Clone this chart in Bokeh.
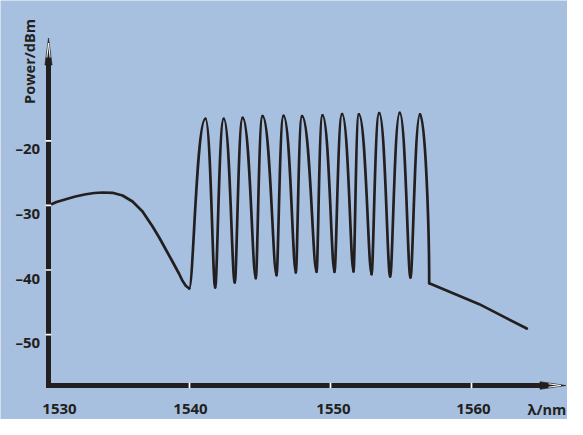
import numpy as np
from bokeh.plotting import figure
from bokeh.models import Range1d, Label
from bokeh.embed import file_html
from bokeh.resources import INLINE

# ---------------- data ----------------
# broad ASE hump before the comb (nm, dBm)
ase_nm = [1530.00, 1530.57, 1531.23, 1531.91, 1532.65, 1533.26, 1533.83, 1534.54,
          1535.25, 1535.96, 1536.67, 1537.38, 1537.85, 1538.32, 1538.79, 1539.27,
          1539.50, 1539.75, 1539.98]
ase_dbm = [-30.02, -29.47, -29.04, -28.62, -28.27, -28.08, -28.00, -28.05,
           -28.47, -29.40, -30.94, -33.27, -34.97, -36.83, -38.68, -40.62,
           -41.67, -42.48, -42.86]

# comb extrema: trough, peak, trough, peak ... ending at the cut-off corner
comb_nm = [1539.98, 1541.13, 1541.82, 1542.43, 1543.21, 1543.77, 1544.70, 1545.18,
           1546.17, 1546.67, 1547.54, 1547.98, 1549.01, 1549.43, 1550.28, 1550.82,
           1551.63, 1552.01, 1552.91, 1553.45, 1554.23, 1554.91, 1555.67, 1556.35,
           1557.00]
comb_dbm = [-42.86, -16.59, -42.71, -16.59, -41.93, -16.44, -41.27, -16.19,
            -40.80, -16.13, -40.39, -16.19, -40.28, -16.06, -40.28, -15.85,
            -40.23, -15.90, -40.65, -15.71, -41.01, -15.68, -41.16, -15.90,
            -42.04]

# decline after the comb
tail_nm = [1557.00, 1558.65, 1560.55, 1562.20, 1563.92]
tail_dbm = [-42.04, -43.56, -45.29, -47.14, -49.06]

x_ticks = [1530, 1540, 1550, 1560]
x_tick_labels = ["1530", "1540", "1550", "1560"]
y_ticks = [-20, -30, -40, -50]
y_tick_labels = ["\u201320", "\u201330", "\u201340", "\u201350"]
x_title = "\u03bb/nm"
y_title = "Power/dBm"

# ---------------- layout / style ----------------
W, H = 567, 419
BG = "#a7c0df"
INK = "#231f20"
FONT = "Open Sans"
PX_NM = 14.1          # pixels per nm
PX_DB = 6.46          # pixels per dB
X0_PX = 48.0          # figure pixel column of 1530 nm
Y0_PX = 140.3         # figure pixel row of -20 dBm


def dx(px):
    return px / PX_NM


def dy(px):
    return px / PX_DB


x_start = 1530 - dx(X0_PX)
x_end = 1530 + dx(W - X0_PX)
y_top = -20 + dy(Y0_PX)
y_bot = -20 - dy(H - Y0_PX)

AXIS_X = 1530
AXIS_Y = -20 - dy(385.0 - Y0_PX)
X_LINE_END = 1530 + dx(540.0 - X0_PX)
X_TIP = 1530 + dx(565.3 - X0_PX)
Y_LINE_END = -20 + dy(Y0_PX - 64.0)
Y_TIP = -20 + dy(Y0_PX - 37.5)
LABEL_DROP = 23.5     # px from x-axis line down to label baseline

p = figure(width=W, height=H, x_range=Range1d(x_start, x_end),
           y_range=Range1d(y_bot, y_top), output_backend="svg",
           toolbar_location=None, x_axis_location=None, y_axis_location=None,
           min_border=0, title=None, background_fill_color=BG,
           border_fill_color=BG, outline_line_color=None)
p.grid.visible = False

LW = 2.7
# ASE part
p.line(ase_nm, ase_dbm, line_width=LW, line_color=INK, line_join="round",
       line_cap="round")

# comb: smooth half-waves between the read extrema
cx = np.array(comb_nm)
cy = np.array(comb_dbm)
x0, x1 = cx[:-1], cx[1:]
y0, y1 = cy[:-1], cy[1:]
K_PEAK = 0.55     # broad, rounded tops
K_TROUGH = 0.25   # narrower dips
k0 = np.where(y0 > y1, K_PEAK, K_TROUGH)
k1 = np.where(y1 > y0, K_PEAK, K_TROUGH)
cx0 = x0 + k0 * (x1 - x0)
cy0 = y0.copy()
cx1 = x1 - k1 * (x1 - x0)
cy1 = y1.copy()
# last edge drops steeply into the cut-off corner
cx1[-1] = x1[-1]
cy1[-1] = y1[-1] + 0.35 * (y0[-1] - y1[-1])
p.bezier(x0=x0, y0=y0, x1=x1, y1=y1, cx0=cx0, cy0=cy0, cx1=cx1, cy1=cy1,
         line_width=LW, line_color=INK, line_cap="round")

# tail
p.line(tail_nm, tail_dbm, line_width=LW, line_color=INK, line_join="round",
       line_cap="round")

# axis lines
p.segment(x0=[AXIS_X - dx(2.5), AXIS_X], y0=[AXIS_Y, AXIS_Y - dy(2.5)],
          x1=[X_LINE_END, AXIS_X], y1=[AXIS_Y, Y_LINE_END],
          line_width=5, line_color=INK, line_cap="butt")

# arrow heads
p.patches(xs=[[X_LINE_END - dx(0.5), X_LINE_END - dx(0.5), X_TIP],
              [AXIS_X - dx(3.6), AXIS_X + dx(3.6), AXIS_X]],
          ys=[[AXIS_Y + dy(3.8), AXIS_Y - dy(3.8), AXIS_Y],
              [Y_LINE_END - dy(0.5), Y_LINE_END - dy(0.5), Y_TIP]],
          fill_color=INK, line_color=INK, line_width=0.6)
p.multi_line(xs=[[X_LINE_END + dx(8), X_TIP - dx(5), X_LINE_END + dx(8)],
                 [AXIS_X - dx(1.6), AXIS_X, AXIS_X + dx(1.6)]],
             ys=[[AXIS_Y + dy(1.7), AXIS_Y, AXIS_Y - dy(1.7)],
                 [Y_LINE_END + dy(7), Y_TIP - dy(5), Y_LINE_END + dy(7)]],
             line_color="white", line_width=1)

# tick marks (white notches in the axis lines)
p.rect(x=x_ticks[1:], y=[AXIS_Y] * (len(x_ticks) - 1), width=1.7, height=5.5,
       width_units="screen", height_units="screen", fill_color="white",
       line_color=None)
p.rect(x=[AXIS_X] * len(y_ticks), y=y_ticks, width=5.5, height=1.7,
       width_units="screen", height_units="screen", fill_color="white",
       line_color=None)


def add_text(x, y, txt, size="15px", align="center", baseline="alphabetic",
             angle=0.0):
    p.add_layout(Label(x=x, y=y, text=txt, text_align=align,
                       text_baseline=baseline, angle=angle,
                       text_font=FONT, text_font_style="bold",
                       text_font_size=size, text_color=INK))


# tick labels
x_label_shift = [11, 1, 3, 2]          # screen px
for t, lab, s in zip(x_ticks, x_tick_labels, x_label_shift):
    add_text(t + dx(s), AXIS_Y - dy(LABEL_DROP), lab)
for t, lab in zip(y_ticks, y_tick_labels):
    add_text(AXIS_X - dx(8.3), t - dy(7.5), lab, align="right")

# axis titles
add_text(X_TIP + dx(0.5), AXIS_Y - dy(LABEL_DROP), x_title, size="14.5px",
         align="right")
add_text(AXIS_X - dx(19), -20 + dy(Y0_PX - 61.0), y_title, size="14.5px",
         baseline="middle", angle=np.pi / 2)

open("out.html", "w").write(file_html(p, INLINE))
